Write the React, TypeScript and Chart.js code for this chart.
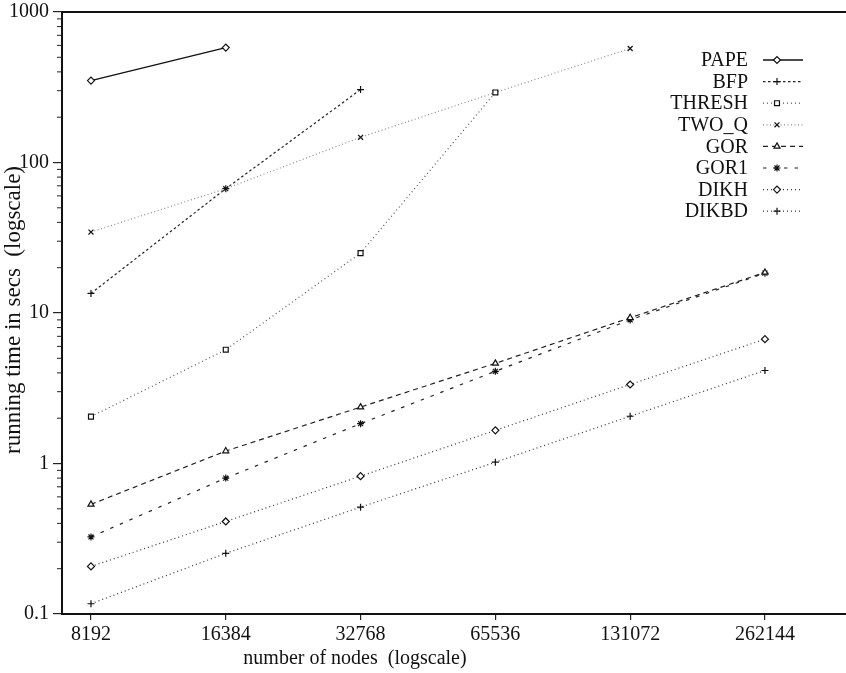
import React, { useEffect, useRef } from "react";
import { Chart, registerables } from "chart.js";
import { drawPoint } from "chart.js/helpers";

Chart.register(...registerables);

const FONT = "'Liberation Serif', 'Times New Roman', serif";

// graph sizes (number of nodes), one column per size
const nodes = [8192, 16384, 32768, 65536, 131072, 262144];

// running times in seconds per algorithm (missing sizes = not run)
const papeSecs = [350, 580];
const bfpSecs = [13.5, 67, 305];
const threshSecs = [2.05, 5.7, 25, 292];
const twoQSecs = [34.5, 67, 147, 292, 572];
const gorSecs = [0.535, 1.21, 2.37, 4.63, 9.3, 18.6];
const gor1Secs = [0.325, 0.8, 1.84, 4.1, 9.0, 18.4];
const dikhSecs = [0.207, 0.412, 0.824, 1.66, 3.35, 6.7];
const dikbdSecs = [0.117, 0.253, 0.513, 1.02, 2.06, 4.15];

const seriesLabels = ["PAPE", "BFP", "THRESH", "TWO_Q", "GOR", "GOR1", "DIKH", "DIKBD"];
const seriesValues = [papeSecs, bfpSecs, threshSecs, twoQSecs, gorSecs, gor1Secs, dikhSecs, dikbdSecs];

const yTickValues = [0.1, 1, 10, 100, 1000];

const seriesStyles = [
  { color: "#111", dash: [] as number[], pointStyle: "rectRot", width: 1.3 },
  { color: "#222", dash: [2.5, 2.5], pointStyle: "cross", width: 1.2 },
  { color: "#555", dash: [1, 3], pointStyle: "rect", width: 1.2 },
  { color: "#8a8a8a", dash: [1, 2.5], pointStyle: "crossRot", width: 1.2 },
  { color: "#222", dash: [5, 4], pointStyle: "triangle", width: 1.2 },
  { color: "#222", dash: [3.5, 7], pointStyle: "star", width: 1.2 },
  { color: "#333", dash: [1, 3], pointStyle: "rectRot", width: 1.2 },
  { color: "#333", dash: [1, 3], pointStyle: "cross", width: 1.2 },
];

// top frame line, minor y ticks, axis titles and the right-aligned key
const decorPlugin = {
  id: "decor",
  afterDraw(chart: any) {
    const { ctx, chartArea } = chart;
    const yScale = chart.scales.y;
    ctx.save();

    ctx.strokeStyle = "#111";
    ctx.lineWidth = 2;
    ctx.beginPath();
    ctx.moveTo(chartArea.left, chartArea.top);
    ctx.lineTo(chartArea.right, chartArea.top);
    ctx.stroke();

    ctx.lineWidth = 1;
    ctx.strokeStyle = "#222";
    for (let k = -1; k < 3; k++) {
      for (let m = 2; m <= 9; m++) {
        const py = yScale.getPixelForValue(m * Math.pow(10, k));
        ctx.beginPath();
        ctx.moveTo(chartArea.left - 5, py);
        ctx.lineTo(chartArea.left, py);
        ctx.stroke();
      }
    }

    ctx.fillStyle = "#111";
    ctx.font = `20px ${FONT}`;
    ctx.textAlign = "center";
    ctx.textBaseline = "middle";
    ctx.fillText("number of nodes  (logscale)", 355, 659);

    ctx.save();
    ctx.translate(14, 310);
    ctx.rotate(-Math.PI / 2);
    ctx.font = `23px ${FONT}`;
    ctx.fillText("running time in secs  (logscale)", 0, 0);
    ctx.restore();

    chart.data.datasets.forEach((ds: any, i: number) => {
      const st = seriesStyles[i];
      const ry = 60 + i * 21.6;
      ctx.fillStyle = "#111";
      ctx.font = `20px ${FONT}`;
      ctx.textAlign = "right";
      ctx.textBaseline = "middle";
      ctx.fillText(ds.label, 748, ry + 1);

      ctx.strokeStyle = st.color;
      ctx.lineWidth = st.width;
      ctx.setLineDash(st.dash);
      ctx.beginPath();
      ctx.moveTo(763, ry);
      ctx.lineTo(803, ry);
      ctx.stroke();
      ctx.setLineDash([]);

      ctx.fillStyle = "#fff";
      ctx.strokeStyle = "#111";
      ctx.lineWidth = 1.2;
      drawPoint(ctx, { pointStyle: st.pointStyle, rotation: 0, radius: 3.5, borderWidth: 1.2 } as any, 777, ry);
    });

    ctx.restore();
  },
};

export default function App() {
  const canvasRef = useRef<HTMLCanvasElement>(null);

  useEffect(() => {
    const datasets = seriesLabels.map((label, i) => {
      const st = seriesStyles[i];
      return {
        label,
        data: seriesValues[i].map((v, j) => ({ x: nodes[j], y: v })),
        borderColor: st.color,
        borderWidth: st.width,
        borderDash: st.dash,
        fill: false,
        tension: 0,
        pointStyle: st.pointStyle as any,
        pointRadius: 3.5,
        pointBorderWidth: 1.2,
        pointBorderColor: "#111",
        pointBackgroundColor: "#fff",
      };
    });

    const chart = new Chart(canvasRef.current!, {
      type: "line",
      data: { datasets },
      options: {
        animation: false,
        responsive: false,
        layout: { autoPadding: false, padding: { top: 12, left: 0, right: 0, bottom: 0 } },
        plugins: { legend: { display: false }, tooltip: { enabled: false } },
        scales: {
          x: {
            type: "logarithmic",
            min: 7058,
            max: 397700,
            bounds: "data",
            afterBuildTicks: (s: any) => {
              s.ticks = nodes.map((v) => ({ value: v }));
            },
            afterFit: (s: any) => {
              s.height = 59;
              s.paddingLeft = 0;
              s.paddingRight = 0;
            },
            ticks: {
              autoSkip: false,
              maxRotation: 0,
              minRotation: 0,
              padding: 3,
              color: "#111",
              font: { family: FONT, size: 20 },
              callback: (v: any) => String(v),
            },
            grid: { drawOnChartArea: false, drawTicks: true, tickLength: 6, color: "#222", lineWidth: 1.2 },
            border: { display: true, color: "#111", width: 2 },
          },
          y: {
            type: "logarithmic",
            min: 0.1,
            max: 1000,
            bounds: "data",
            afterBuildTicks: (s: any) => {
              s.ticks = yTickValues.map((v) => ({ value: v }));
            },
            afterFit: (s: any) => {
              s.width = 62;
              s.paddingTop = 0;
              s.paddingBottom = 0;
            },
            ticks: {
              autoSkip: false,
              padding: 4,
              color: "#111",
              font: { family: FONT, size: 20 },
              callback: (v: any) => String(v),
            },
            grid: { drawOnChartArea: false, drawTicks: true, tickLength: 9, color: "#222", lineWidth: 1.2 },
            border: { display: true, color: "#111", width: 2 },
          },
        },
      },
      plugins: [decorPlugin],
    });

    return () => chart.destroy();
  }, []);

  return (
    <div style={{ position: "fixed", left: 0, top: 0, width: 846, height: 673, background: "#fff" }}>
      <canvas ref={canvasRef} width={846} height={673} style={{ display: "block" }} />
    </div>
  );
}
